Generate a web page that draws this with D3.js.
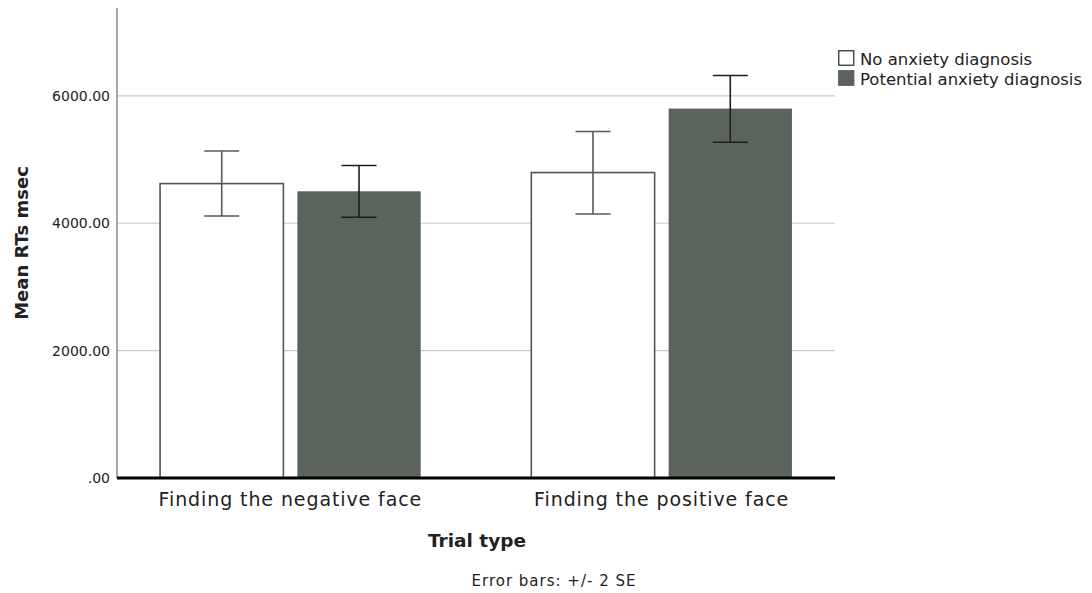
<!DOCTYPE html>
<html lang="en">
<head>
  <meta charset="UTF-8">
  <title>Mean RTs by trial type</title>
  <style>
    body { margin: 0; background: #fff; }
    svg { display: block; }
    text { font-family: "DejaVu Sans", sans-serif; fill: #222; }
    .grid line { stroke: #c8c8c8; stroke-width: 1.2px; }
  </style>
</head>
<body>
  <svg width="1092" height="593"></svg>
  <script src="https://d3js.org/d3.v7.min.js"></script>
  <script>
    // data
    const trialTypes = ["Finding the negative face", "Finding the positive face"];
    const groups = ["No anxiety diagnosis", "Potential anxiety diagnosis"];
    const means = [[4623, 4502], [4796, 5801]];
    const errLow = [[4114, 4094], [4146, 5272]];
    const errHigh = [[5135, 4906], [5440, 6319]];
    const yTicks = [0, 2000, 4000, 6000];

    const fills = ["#ffffff", "#5b635d"];
    const strokes = ["#555555", "none"];
    const errColors = ["#5a5a5a", "#1e1e1e"];

    const svg = d3.select("svg");
    const plotL = 117, plotR = 835, plotT = 8, plotB = 478;

    const y = d3.scaleLinear().domain([0, 7380]).range([plotB, plotT]);
    const x0 = d3.scaleBand().domain(trialTypes).range([plotL, plotR])
      .paddingInner(0.298).paddingOuter(0.116);
    const x1 = d3.scaleBand().domain(groups).range([0, x0.bandwidth()])
      .paddingInner(0.102);

    // gridlines
    svg.append("g").attr("class", "grid")
      .selectAll("line").data(yTicks.filter(d => d > 0)).join("line")
      .attr("x1", plotL).attr("x2", plotR)
      .attr("y1", d => y(d)).attr("y2", d => y(d));

    // y axis
    const yAxis = svg.append("g")
      .attr("transform", `translate(${plotL},0)`)
      .call(d3.axisLeft(y).tickValues(yTicks).tickSize(0).tickPadding(7)
        .tickFormat(d => d === 0 ? ".00" : d3.format(".2f")(d)));
    yAxis.select(".domain").remove();
    yAxis.selectAll("text").style("font-size", "14px").attr("fill", "#333");
    svg.append("line")
      .attr("x1", plotL).attr("x2", plotL).attr("y1", plotT).attr("y2", plotB)
      .attr("stroke", "#8a8a8a").attr("stroke-width", 1.5);

    // bars
    const cat = svg.append("g").selectAll("g").data(trialTypes).join("g")
      .attr("transform", d => `translate(${x0(d)},0)`);

    cat.each(function(t, i) {
      const g = d3.select(this);
      groups.forEach((s, j) => {
        g.append("rect")
          .attr("x", x1(s)).attr("width", x1.bandwidth())
          .attr("y", y(means[i][j])).attr("height", y(0) - y(means[i][j]))
          .attr("fill", fills[j])
          .attr("stroke", strokes[j]).attr("stroke-width", 1.6);
      });
      groups.forEach((s, j) => {
        const cx = x1(s) + x1.bandwidth() / 2;
        const eb = g.append("g").attr("stroke", errColors[j]).attr("stroke-width", 1.6);
        eb.append("line").attr("x1", cx).attr("x2", cx)
          .attr("y1", y(errLow[i][j])).attr("y2", y(errHigh[i][j]));
        [errLow[i][j], errHigh[i][j]].forEach(v => {
          eb.append("line").attr("x1", cx - 17.5).attr("x2", cx + 17.5)
            .attr("y1", y(v)).attr("y2", y(v));
        });
      });
    });

    // x axis
    svg.append("line")
      .attr("x1", plotL).attr("x2", plotR).attr("y1", y(0)).attr("y2", y(0))
      .attr("stroke", "#000").attr("stroke-width", 3);
    svg.append("g").selectAll("text").data(trialTypes).join("text")
      .attr("x", d => x0(d) + x0.bandwidth() / 2)
      .attr("y", 506)
      .attr("text-anchor", "middle")
      .style("font-size", "19px").style("letter-spacing", "0.9px")
      .text(d => d);

    // axis titles
    svg.append("text")
      .attr("transform", "translate(28,243) rotate(-90)")
      .attr("text-anchor", "middle")
      .style("font-size", "18px").style("font-weight", "bold")
      .text("Mean RTs msec");
    svg.append("text")
      .attr("x", 477).attr("y", 547)
      .attr("text-anchor", "middle")
      .style("font-size", "18.5px").style("font-weight", "bold")
      .text("Trial type");
    svg.append("text")
      .attr("x", 554).attr("y", 586)
      .attr("text-anchor", "middle")
      .style("font-size", "15px").style("letter-spacing", "1px")
      .text("Error bars: +/- 2 SE");

    // legend
    const lg = svg.append("g").attr("transform", "translate(838,50)");
    groups.forEach((s, j) => {
      lg.append("rect")
        .attr("x", 0.75).attr("y", j * 20 + 0.75).attr("width", 15).attr("height", 14.5)
        .attr("fill", fills[j])
        .attr("stroke", j === 0 ? "#333" : fills[j]).attr("stroke-width", 1.3);
      lg.append("text")
        .attr("x", 22).attr("y", j * 20 + 14.5)
        .style("font-size", "16.5px")
        .text(s);
    });
  </script>
</body>
</html>
